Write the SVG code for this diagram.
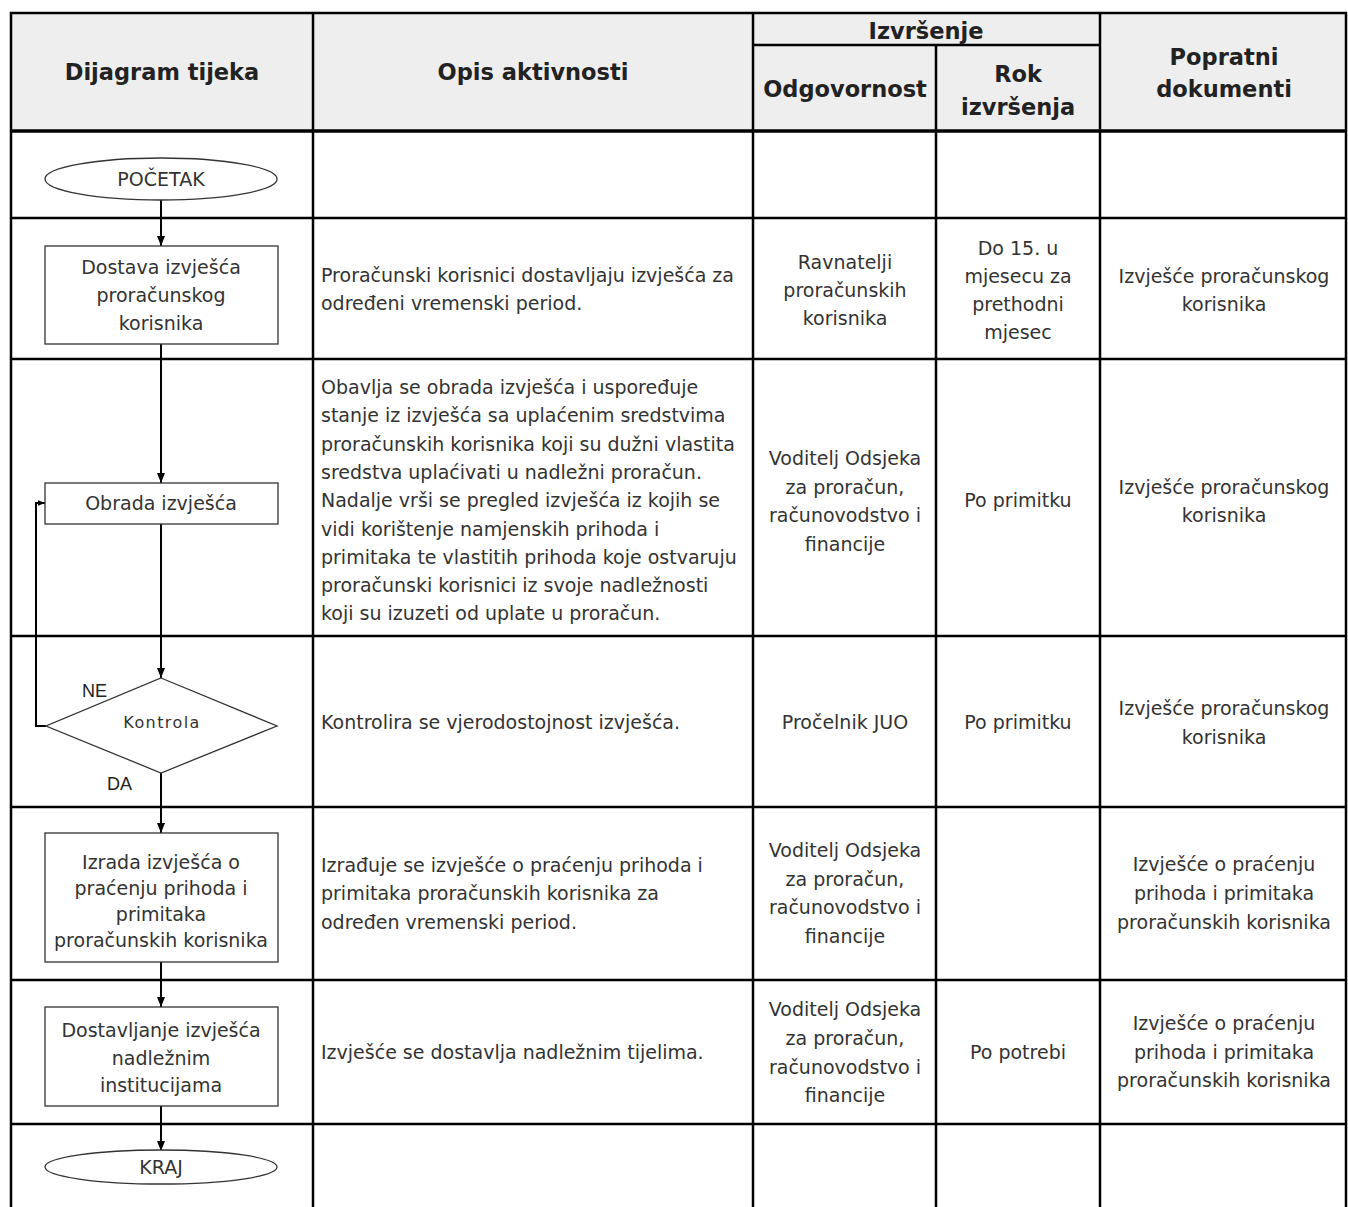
<svg xmlns="http://www.w3.org/2000/svg" width="1348" height="1207" viewBox="0 0 1348 1207">
<style>
.grid{stroke:#000;stroke-width:2.5;fill:none}
.hdr{font-family:"DejaVu Sans",sans-serif;font-weight:bold;font-size:22.5px;fill:#222;text-anchor:middle}
.t{font-family:"DejaVu Sans",sans-serif;font-size:19px;fill:#333}
.c{text-anchor:middle}
.shape{fill:#fff;stroke:#333;stroke-width:1.3}
.conn{stroke:#000;stroke-width:2;fill:none}
.lbl{font-family:"Liberation Sans",Arial,sans-serif;font-size:18px;fill:#222}
</style>
<defs>
<marker id="ah" viewBox="0 0 10 8" refX="10" refY="4" markerWidth="10" markerHeight="8" markerUnits="userSpaceOnUse" orient="auto">
<path d="M0,0 L10,4 L0,8 Z" fill="#000"/>
</marker>
<marker id="ahs" viewBox="0 0 10 8" refX="10" refY="4" markerWidth="7" markerHeight="6" markerUnits="userSpaceOnUse" orient="auto">
<path d="M0,0 L10,4 L0,8 Z" fill="#000"/>
</marker>
</defs>
<rect x="0" y="0" width="1348" height="1207" fill="#fff"/>
<g id="table">
<rect x="11" y="13" width="1335" height="118" fill="#eeeeee"/>
<line class="grid" x1="10" y1="13" x2="1347" y2="13"/>
<line class="grid" x1="753" y1="45" x2="1100" y2="45"/>
<line class="grid" x1="10" y1="131" x2="1347" y2="131" style="stroke-width:3.5"/>
<line class="grid" x1="10" y1="218" x2="1347" y2="218"/>
<line class="grid" x1="10" y1="359" x2="1347" y2="359"/>
<line class="grid" x1="10" y1="636" x2="1347" y2="636"/>
<line class="grid" x1="10" y1="807" x2="1347" y2="807"/>
<line class="grid" x1="10" y1="980" x2="1347" y2="980"/>
<line class="grid" x1="10" y1="1124" x2="1347" y2="1124"/>
<line class="grid" x1="11" y1="12" x2="11" y2="1207"/>
<line class="grid" x1="313" y1="12" x2="313" y2="1207"/>
<line class="grid" x1="753" y1="12" x2="753" y2="1207"/>
<line class="grid" x1="936" y1="45" x2="936" y2="1207"/>
<line class="grid" x1="1100" y1="12" x2="1100" y2="1207"/>
<line class="grid" x1="1346" y1="12" x2="1346" y2="1207"/>
<text class="hdr" x="162" y="80">Dijagram tijeka</text>
<text class="hdr" x="533" y="80">Opis aktivnosti</text>
<text class="hdr" x="926" y="39">Izvršenje</text>
<text class="hdr" x="845" y="97">Odgovornost</text>
<text class="hdr" x="1018" y="82">Rok</text>
<text class="hdr" x="1018" y="115">izvršenja</text>
<text class="hdr" x="1224" y="65">Popratni</text>
<text class="hdr" x="1224" y="97">dokumenti</text>
</g>
<g id="cells">
<text class="t" x="321" y="282">Proračunski korisnici dostavljaju izvješća za</text>
<text class="t" x="321" y="310">određeni vremenski period.</text>
<text class="t c" x="845" y="269">Ravnatelji</text>
<text class="t c" x="845" y="297">proračunskih</text>
<text class="t c" x="845" y="325">korisnika</text>
<text class="t c" x="1018" y="255">Do 15. u</text>
<text class="t c" x="1018" y="283">mjesecu za</text>
<text class="t c" x="1018" y="311">prethodni</text>
<text class="t c" x="1018" y="339">mjesec</text>
<text class="t c" x="1224" y="283">Izvješće proračunskog</text>
<text class="t c" x="1224" y="311">korisnika</text>

<text class="t" x="321" y="394">Obavlja se obrada izvješća i uspoređuje</text>
<text class="t" x="321" y="422.3">stanje iz izvješća sa uplaćenim sredstvima</text>
<text class="t" x="321" y="450.6">proračunskih korisnika koji su dužni vlastita</text>
<text class="t" x="321" y="478.9">sredstva uplaćivati u nadležni proračun.</text>
<text class="t" x="321" y="507.2">Nadalje vrši se pregled izvješća iz kojih se</text>
<text class="t" x="321" y="535.5">vidi korištenje namjenskih prihoda i</text>
<text class="t" x="321" y="563.8">primitaka te vlastitih prihoda koje ostvaruju</text>
<text class="t" x="321" y="592.1">proračunski korisnici iz svoje nadležnosti</text>
<text class="t" x="321" y="620.4">koji su izuzeti od uplate u proračun.</text>
<text class="t c" x="845" y="465">Voditelj Odsjeka</text>
<text class="t c" x="845" y="493.5">za proračun,</text>
<text class="t c" x="845" y="522">računovodstvo i</text>
<text class="t c" x="845" y="550.5">financije</text>
<text class="t c" x="1018" y="507">Po primitku</text>
<text class="t c" x="1224" y="494">Izvješće proračunskog</text>
<text class="t c" x="1224" y="522">korisnika</text>

<text class="t" x="321" y="729">Kontrolira se vjerodostojnost izvješća.</text>
<text class="t c" x="845" y="729">Pročelnik JUO</text>
<text class="t c" x="1018" y="729">Po primitku</text>
<text class="t c" x="1224" y="715">Izvješće proračunskog</text>
<text class="t c" x="1224" y="744">korisnika</text>

<text class="t" x="321" y="872">Izrađuje se izvješće o praćenju prihoda i</text>
<text class="t" x="321" y="900">primitaka proračunskih korisnika za</text>
<text class="t" x="321" y="929">određen vremenski period.</text>
<text class="t c" x="845" y="857">Voditelj Odsjeka</text>
<text class="t c" x="845" y="886">za proračun,</text>
<text class="t c" x="845" y="914">računovodstvo i</text>
<text class="t c" x="845" y="943">financije</text>
<text class="t c" x="1224" y="871">Izvješće o praćenju</text>
<text class="t c" x="1224" y="900">prihoda i primitaka</text>
<text class="t c" x="1224" y="929">proračunskih korisnika</text>

<text class="t" x="321" y="1059">Izvješće se dostavlja nadležnim tijelima.</text>
<text class="t c" x="845" y="1016">Voditelj Odsjeka</text>
<text class="t c" x="845" y="1045">za proračun,</text>
<text class="t c" x="845" y="1074">računovodstvo i</text>
<text class="t c" x="845" y="1102">financije</text>
<text class="t c" x="1018" y="1059">Po potrebi</text>
<text class="t c" x="1224" y="1030">Izvješće o praćenju</text>
<text class="t c" x="1224" y="1059">prihoda i primitaka</text>
<text class="t c" x="1224" y="1087">proračunskih korisnika</text>
</g>
<g id="connectors">
<line class="conn" x1="161" y1="200" x2="161" y2="246" marker-end="url(#ah)"/>
<line class="conn" x1="161" y1="344" x2="161" y2="483" marker-end="url(#ah)"/>
<line class="conn" x1="161" y1="524" x2="161" y2="678" marker-end="url(#ah)"/>
<line class="conn" x1="161" y1="773" x2="161" y2="833" marker-end="url(#ah)"/>
<line class="conn" x1="161" y1="962" x2="161" y2="1007" marker-end="url(#ah)"/>
<line class="conn" x1="161" y1="1106" x2="161" y2="1151" marker-end="url(#ah)"/>
<polyline class="conn" points="46,726 36,726 36,503 45,503" marker-end="url(#ahs)"/>
<text class="lbl" x="82" y="697">NE</text>
<text class="lbl" x="107" y="790">DA</text>
</g>
<g id="start">
<ellipse class="shape" cx="161" cy="179" rx="116" ry="21"/>
<text class="t c" x="161" y="186">POČETAK</text>
</g>
<g id="dostava">
<rect class="shape" x="45" y="246" width="233" height="98"/>
<text class="t c" x="161" y="274">Dostava izvješća</text>
<text class="t c" x="161" y="302">proračunskog</text>
<text class="t c" x="161" y="330">korisnika</text>
</g>
<g id="obrada">
<rect class="shape" x="45" y="483" width="233" height="41"/>
<text class="t c" x="161" y="510">Obrada izvješća</text>
</g>
<g id="kontrola">
<polygon class="shape" points="161,678 277,726 161,773 46,726"/>
<text class="t c" x="162" y="728" style="font-size:16px;letter-spacing:1.4px">Kontrola</text>
</g>
<g id="izrada">
<rect class="shape" x="45" y="833" width="233" height="129"/>
<text class="t c" x="161" y="869">Izrada izvješća o</text>
<text class="t c" x="161" y="895">praćenju prihoda i</text>
<text class="t c" x="161" y="921">primitaka</text>
<text class="t c" x="161" y="947">proračunskih korisnika</text>
</g>
<g id="dostavljanje">
<rect class="shape" x="45" y="1007" width="233" height="99"/>
<text class="t c" x="161" y="1037">Dostavljanje izvješća</text>
<text class="t c" x="161" y="1065">nadležnim</text>
<text class="t c" x="161" y="1092">institucijama</text>
</g>
<g id="end">
<ellipse class="shape" cx="161" cy="1167" rx="116" ry="17"/>
<text class="t c" x="161" y="1174">KRAJ</text>
</g>
</svg>
